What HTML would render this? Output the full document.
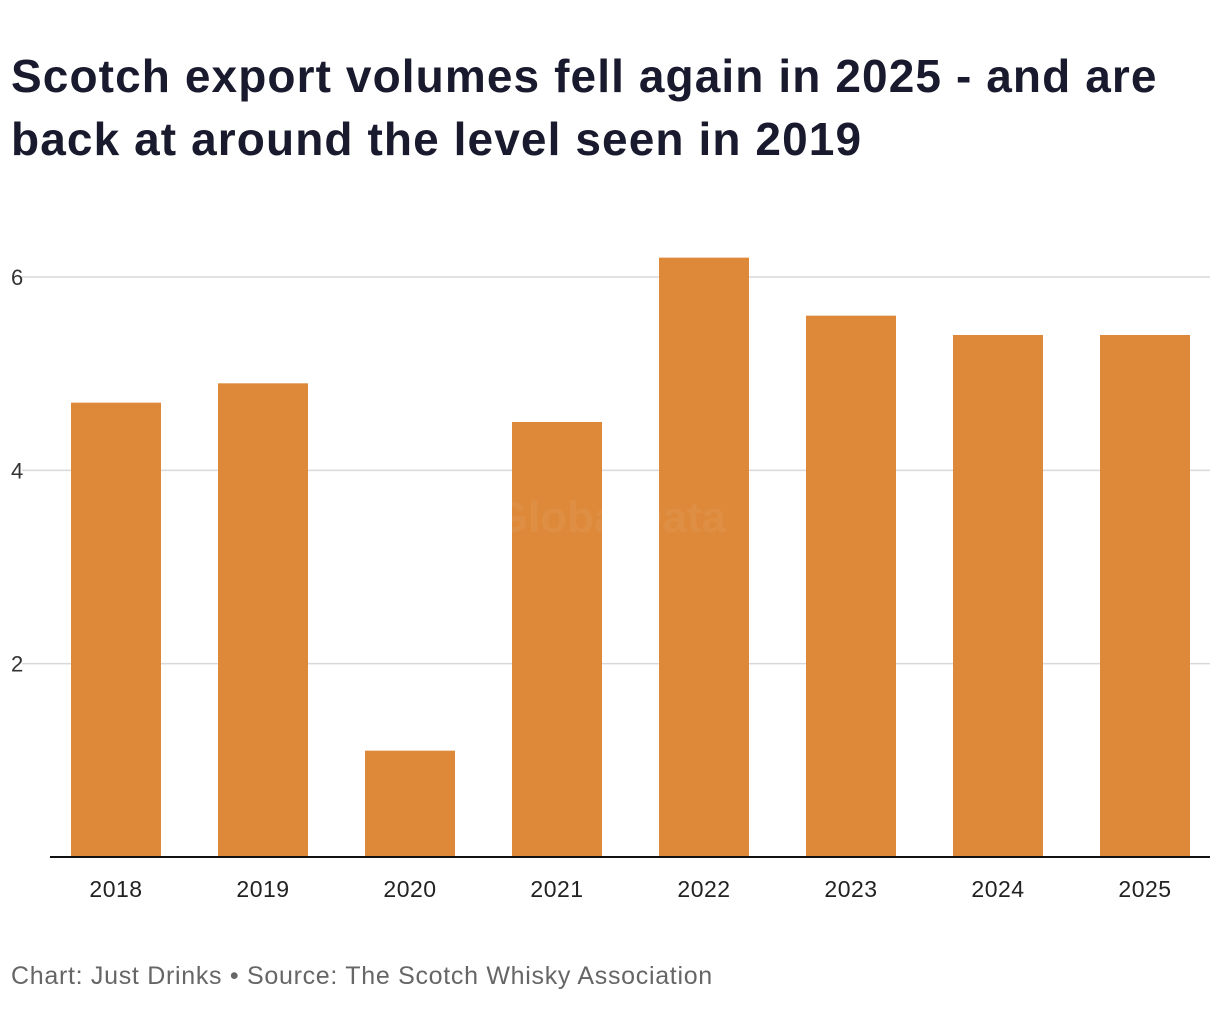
<!DOCTYPE html>
<html><head><meta charset="utf-8"><style>
body{margin:0;background:#fff;width:1220px;height:1034px;overflow:hidden;font-family:"Liberation Sans",sans-serif}
#title{position:absolute;left:11px;top:45px;margin:0;font-size:46px;font-weight:bold;line-height:63px;color:#1a1a2e;letter-spacing:1.1px;white-space:nowrap}
#foot{position:absolute;left:11px;top:962px;font-size:25px;color:#666;letter-spacing:0.7px}
svg{position:absolute;left:0;top:0}
</style></head><body>
<h1 id="title">Scotch export volumes fell again in 2025 - and are<br>back at around the level seen in 2019</h1>
<svg id="chart" width="1220" height="1034"></svg>
<div id="foot">Chart: Just Drinks • Source: The Scotch Whisky Association</div>
<script>
const categories=["2018","2019","2020","2021","2022","2023","2024","2025"];
const values=[4.7,4.9,1.1,4.5,6.2,5.6,5.4,5.4];
const yTicks=[2,4,6];
const NS="http://www.w3.org/2000/svg";
const svg=document.getElementById('chart');
const y0=857,unit=96.67,x0=71,step=147,bw=90;
const y=v=>y0-v*unit;
const x=i=>x0+i*step;
function mk(t,a){const e=document.createElementNS(NS,t);for(const k in a)e.setAttribute(k,a[k]);svg.appendChild(e);return e;}
yTicks.forEach(t=>{
 const l=mk('line',{x1:22,x2:1210,y1:y(t),y2:y(t),stroke:'#d9d9d9','stroke-width':1.5});
 
 
 const tx=mk('text',{x:11,y:y(t)+8,'font-size':22,fill:'#333','font-family':'Liberation Sans'});
 tx.textContent=t;
 
 
});
categories.forEach((c,i)=>{
 const r=mk('rect',{x:x(i),y:y(values[i]),width:bw,height:y0-y(values[i]),fill:'#DE8839'});
 
 
 const tx=mk('text',{x:x(i)+bw/2,y:897,'text-anchor':'middle','font-size':23,fill:'#222','font-family':'Liberation Sans','letter-spacing':0.5});
 tx.textContent=c;
 
 
});
const wm=mk('text',{x:610,y:532,'text-anchor':'middle','font-size':44,'font-weight':'bold',fill:'#ffffff','fill-opacity':0.06,'font-family':'Liberation Sans'});
wm.textContent='GlobalData';


const ax=mk('line',{x1:50,x2:1210,y1:y0,y2:y0,stroke:'#111','stroke-width':2});


</script>
</body></html>
